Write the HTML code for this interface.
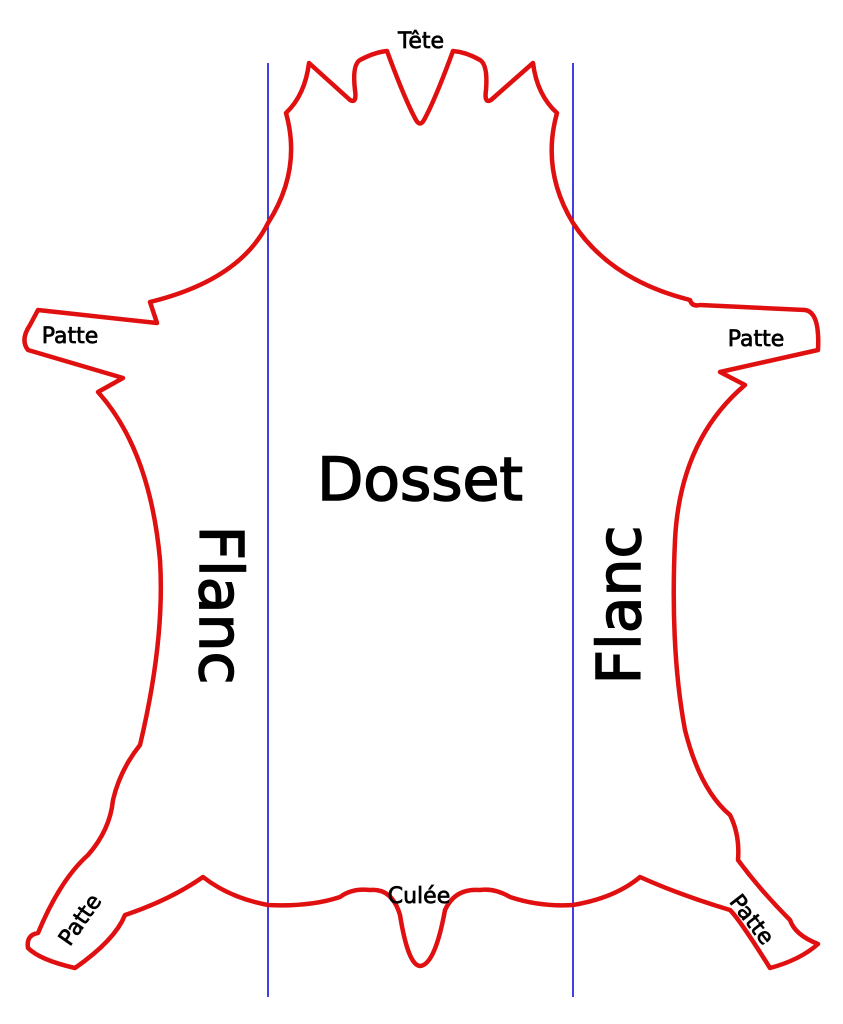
<!DOCTYPE html>
<html><head><meta charset="utf-8"><style>
html,body{margin:0;padding:0;background:#fff;}
svg{display:block;}
text{font-family:"DejaVu Sans","Liberation Sans",sans-serif;fill:#000;stroke:#000;}
.s{stroke-width:0.7;font-size:22px;}
.b{stroke-width:1.6;font-size:60px;}
</style></head><body>
<svg width="843" height="1024" viewBox="0 0 843 1024" xmlns="http://www.w3.org/2000/svg">
<line x1="268" y1="63" x2="268" y2="997" stroke="#1010e0" stroke-width="1.6"/>
<line x1="573" y1="63" x2="573" y2="997" stroke="#1010e0" stroke-width="1.6"/>
<path fill="none" stroke="#e01010" stroke-width="4.5" stroke-linejoin="round" stroke-linecap="round" d="
M268,223 Q302,170 286,113 Q305,95 309,63 L350,100 Q357,104 355,90 Q352,65 360,60 Q375,52 387,51
Q405,100 416,120 Q420,127 424,120 Q435,100 453,51 Q466,52 480,60 Q488,65 486,90 Q484,104 491,100 L533,63
Q537,95 557,113 Q541,170 573,223 Q610,280 690,300 Q692,307 700,305 L805,310 Q820,312 818,350
L720,372 L745,385 Q680,440 675,540 Q670,650 685,730 Q700,790 730,815 Q740,835 738,860
Q760,890 790,920 Q795,935 818,944 Q800,960 770,968 Q740,920 730,910
Q680,895 640,877 Q615,898 573,905 Q540,907 510,897 Q495,888 480,890 Q455,888 445,910 Q435,965 420,966
Q408,965 400,915 Q392,888 370,890 Q352,888 340,897 Q310,907 268,905 Q230,898 203,877
Q170,900 125,915 Q115,940 75,968 Q40,960 28,948 Q26,935 38,933
Q60,880 88,855 Q110,830 113,800 Q120,770 140,745 Q165,640 160,560 Q150,450 98,392
L123,378 L28,350 Q20,340 30,325 L38,310 L157,323 L150,302 Q240,280 268,223 Z"/>
<text x="421" y="48" class="s" text-anchor="middle">Tête</text>
<text x="420" y="500" class="b" text-anchor="middle">Dosset</text>
<text transform="translate(200,605) rotate(90)" class="b" text-anchor="middle">Flanc</text>
<text transform="translate(640,605) rotate(-90)" class="b" text-anchor="middle">Flanc</text>
<text x="70" y="343" class="s" text-anchor="middle">Patte</text>
<text x="756" y="346" class="s" text-anchor="middle">Patte</text>
<text x="419" y="903" class="s" text-anchor="middle">Culée</text>
<text transform="translate(86,924) rotate(-55)" class="s" text-anchor="middle">Patte</text>
<text transform="translate(746,924) rotate(52)" class="s" text-anchor="middle">Patte</text>
</svg>
</body></html>
